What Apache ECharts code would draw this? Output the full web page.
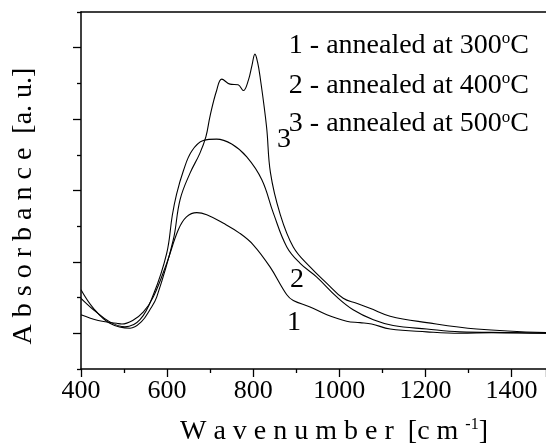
<!DOCTYPE html>
<html>
<head>
<meta charset="utf-8">
<title>Absorbance spectra</title>
<script src="https://cdn.jsdelivr.net/npm/echarts@6/dist/echarts.min.js"></script>
<style>
	html, body { margin: 0; padding: 0; background: #fff; }
	#chart { width: 546px; height: 446px; }
</style>
</head>
<body>
<div id="chart"></div>
<script>
// curve 1 - annealed at 300 C
var wave1 = [400, 440, 483, 495, 520, 545, 568, 599, 626, 645, 669, 692, 731, 769, 800, 839, 878, 893, 932, 971, 1017, 1048, 1075, 1118, 1203, 1280, 1357, 1480];
var abs1  = [0.76, 0.68, 0.64, 0.63, 0.68, 0.80, 1.01, 1.48, 1.95, 2.13, 2.19, 2.16, 2.04, 1.90, 1.74, 1.43, 1.04, 0.96, 0.87, 0.76, 0.67, 0.65, 0.63, 0.56, 0.52, 0.50, 0.51, 0.50];
// curve 2 - annealed at 400 C
var wave2 = [400, 429, 467, 502, 537, 568, 599, 612, 622, 638, 657, 684, 715, 750, 785, 820, 847, 878, 909, 947, 994, 1032, 1079, 1125, 1203, 1280, 1396, 1480];
var abs2  = [0.99, 0.83, 0.66, 0.59, 0.69, 1.04, 1.62, 2.15, 2.45, 2.78, 3.05, 3.20, 3.22, 3.15, 2.97, 2.65, 2.18, 1.71, 1.48, 1.29, 1.01, 0.83, 0.69, 0.61, 0.56, 0.52, 0.51, 0.50];
// curve 3 - annealed at 500 C
var wave3 = [400, 429, 467, 514, 540, 560, 576, 614, 630, 653, 676, 690, 700, 715, 727, 746, 765, 777, 789, 797, 804, 810, 816, 831, 840, 862, 893, 932, 971, 1009, 1040, 1071, 1118, 1203, 1319, 1480];
var abs3  = [1.11, 0.85, 0.64, 0.57, 0.66, 0.83, 1.01, 1.80, 2.37, 2.74, 3.02, 3.25, 3.55, 3.90, 4.06, 3.99, 3.98, 3.90, 4.05, 4.25, 4.41, 4.30, 4.09, 3.39, 2.75, 2.18, 1.71, 1.43, 1.20, 0.99, 0.92, 0.85, 0.74, 0.65, 0.56, 0.51];

var legendLines = ['1 - annealed at 300', '2 - annealed at 400', '3 - annealed at 500'];
var curveLabels = ['1', '2', '3'];

var serif = 'Liberation Serif';

function pairs(xs, ys) {
	var out = [];
	for (var i = 0; i < xs.length; i++) {
		out.push([xs[i], ys[i]]);
	}
	return out;
}

function curve(name, xs, ys) {
	return {
		name: name,
		type: 'line',
		data: pairs(xs, ys),
		showSymbol: false,
		smooth: 0.4,
		lineStyle: { color: '#000', width: 1.1 },
		silent: true
	};
}

var richText = {
	b: { fontFamily: serif, fontSize: 28, lineHeight: 30, color: '#000' },
	s: { fontFamily: serif, fontSize: 17, verticalAlign: 'top', color: '#000' },
	t: { fontFamily: serif, fontSize: 16, verticalAlign: 'top', color: '#000' }
};

var graphics = [];
// legend text, top right
var legendY = [45.5, 85.5, 124];
for (var i = 0; i < legendLines.length; i++) {
	graphics.push({
		type: 'text',
		x: 529, y: legendY[i],
		style: {
			text: '{b|' + legendLines[i] + '}{s|o}{b|C}',
			rich: richText,
			fill: '#000',
			align: 'right',
			verticalAlign: 'middle'
		}
	});
}
// numbers next to the curves
var labelPos = [[294, 323], [297, 280], [284, 140]];
for (var j = 0; j < curveLabels.length; j++) {
	graphics.push({
		type: 'text',
		x: labelPos[j][0], y: labelPos[j][1],
		style: {
			text: curveLabels[j],
			font: '28px ' + serif,
			fill: '#000',
			align: 'center',
			verticalAlign: 'middle'
		}
	});
}
// axis titles
graphics.push({
	type: 'text',
	x: 334, y: 432,
	style: {
		text: '{b|W a v e n u m b e r  [c m }{t|-1}{b|]}',
		rich: richText,
		fill: '#000',
		align: 'center',
		verticalAlign: 'middle'
	}
});
graphics.push({
	type: 'text',
	x: 24, y: 206,
	rotation: Math.PI / 2,
	style: {
		text: 'A b s o r b a n c e  [a. u.]',
		font: '28px ' + serif,
		fill: '#000',
		align: 'center',
		verticalAlign: 'middle'
	}
});

var axisLine = { show: true, lineStyle: { color: '#000', width: 1.5 } };

var chart = echarts.init(document.getElementById('chart'), null, { renderer: 'canvas' });
chart.setOption({
	animation: false,
	backgroundColor: '#fff',
	grid: { left: 81, right: 0, top: 12, bottom: 77, containLabel: false, outerBoundsMode: 'none' },
	xAxis: [{
		type: 'value',
		position: 'bottom',
		min: 400, max: 1480, interval: 200,
		axisLine: axisLine,
		axisTick: { show: true, inside: false, length: 8, lineStyle: { color: '#000', width: 1.3 } },
		minorTick: { show: true, splitNumber: 2, length: 4, lineStyle: { color: '#000', width: 1.3 } },
		axisLabel: {
			show: true, showMaxLabel: false, margin: 9, color: '#000', fontFamily: serif, fontSize: 26,
			formatter: function (v) { return String(v); }
		},
		splitLine: { show: false }
	}, {
		type: 'value',
		position: 'top',
		min: 400, max: 1480,
		axisLine: axisLine,
		axisTick: { show: false },
		axisLabel: { show: false },
		splitLine: { show: false }
	}],
	yAxis: [{
		type: 'value',
		position: 'left',
		min: 0, max: 5, interval: 1,
		axisLine: axisLine,
		axisTick: { show: true, inside: false, length: 4, lineStyle: { color: '#000', width: 1.3 } },
		minorTick: { show: true, splitNumber: 2, length: 8, lineStyle: { color: '#000', width: 1.3 } },
		axisLabel: { show: false },
		splitLine: { show: false }
	}],
	series: [
		curve('300', wave1, abs1),
		curve('400', wave2, abs2),
		curve('500', wave3, abs3)
	],
	graphic: graphics
});
</script>
</body>
</html>
